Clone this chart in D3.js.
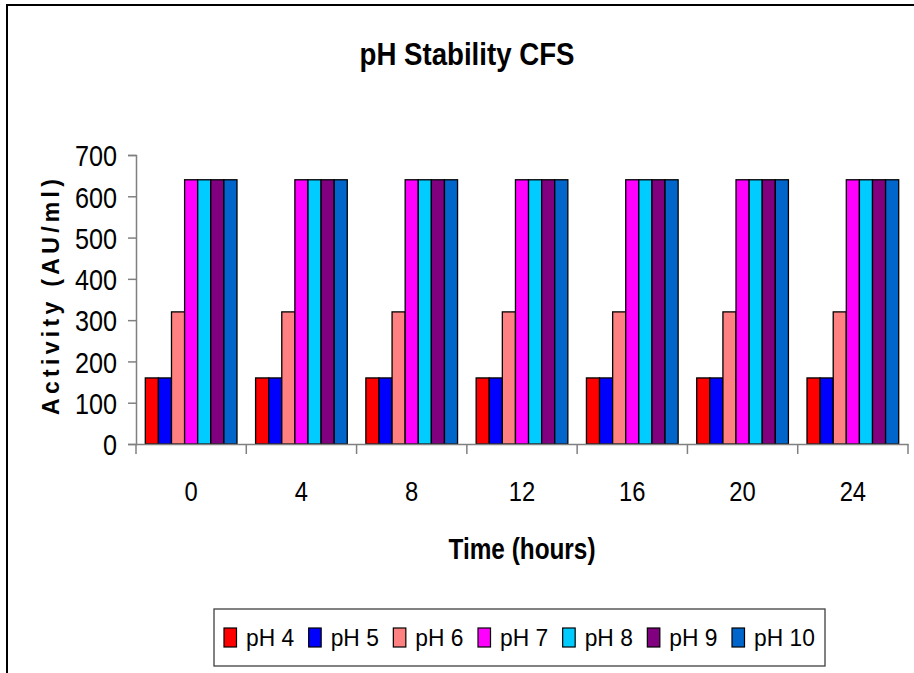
<!DOCTYPE html>
<html>
<head>
<meta charset="utf-8">
<script src="https://cdn.jsdelivr.net/npm/d3@7"></script>
<style>
  html, body { margin: 0; padding: 0; background: #fff; }
  svg { display: block; }
  text { font-family: "Liberation Sans", Arial, sans-serif; fill: #000; }
</style>
</head>
<body>
<svg id="chart" width="914" height="673"></svg>
<script>
const categories = ["0", "4", "8", "12", "16", "20", "24"];
const seriesNames = ["pH 4", "pH 5", "pH 6", "pH 7", "pH 8", "pH 9", "pH 10"];
const pH4  = [160, 160, 160, 160, 160, 160, 160];
const pH5  = [160, 160, 160, 160, 160, 160, 160];
const pH6  = [320, 320, 320, 320, 320, 320, 320];
const pH7  = [640, 640, 640, 640, 640, 640, 640];
const pH8  = [640, 640, 640, 640, 640, 640, 640];
const pH9  = [640, 640, 640, 640, 640, 640, 640];
const pH10 = [640, 640, 640, 640, 640, 640, 640];
const yTicks = [0, 100, 200, 300, 400, 500, 600, 700];
const colors = ["#FF0000", "#0000FF", "#FF8080", "#FF00FF", "#00CCFF", "#800080", "#0066CC"];
const titleText = "pH Stability CFS";
const xTitle = "Time (hours)";
const yTitle = "Activity (AU/ml)";

const seriesValues = [pH4, pH5, pH6, pH7, pH8, pH9, pH10];

// emulate a narrow face by compressing glyphs horizontally
function narrow(sel, factor) {
  sel.each(function () {
    const w = this.getComputedTextLength();
    d3.select(this).attr("textLength", w * factor).attr("lengthAdjust", "spacingAndGlyphs");
  });
}

const svg = d3.select("#chart");

// outer frame
svg.append("path")
  .attr("d", "M7,673 L7,5 L914,5")
  .attr("fill", "none").attr("stroke", "#000").attr("stroke-width", 2);

const plot = { left: 136, right: 908, top: 155, bottom: 444 };

const x0 = d3.scaleBand().domain(categories).range([plot.left, plot.right]).padding(0);
const gapFrac = 9.3 / x0.bandwidth();
const x1 = d3.scaleBand().domain(seriesNames)
  .range([x0.bandwidth() * gapFrac, x0.bandwidth() * (1 - gapFrac)]).padding(0);
const y = d3.scaleLinear().domain([0, 700]).range([plot.bottom, plot.top]);

// bars
const groups = svg.append("g").selectAll("g")
  .data(categories)
  .join("g")
  .attr("transform", d => `translate(${x0(d)},0)`);

groups.selectAll("rect")
  .data((c, ci) => seriesNames.map((s, si) => ({ s, si, v: seriesValues[si][ci] })))
  .join("rect")
  .attr("x", d => x1(d.s))
  .attr("y", d => y(d.v))
  .attr("width", x1.bandwidth())
  .attr("height", d => y(0) - y(d.v))
  .attr("fill", d => colors[d.si])
  .attr("stroke", "#000")
  .attr("stroke-width", 1.3);

// y axis
const yAxis = svg.append("g")
  .attr("transform", `translate(${plot.left},0)`)
  .call(d3.axisLeft(y).tickValues(yTicks).tickSize(8).tickPadding(11).tickFormat(d3.format("d")));
yAxis.select(".domain").attr("stroke", "#808080").attr("stroke-width", 1.5);
yAxis.selectAll(".tick line").attr("stroke", "#808080").attr("stroke-width", 1.5);
yAxis.selectAll(".tick text").attr("font-size", 30).attr("fill", "#000")
  .attr("dy", "0.36em")
  .style("font-family", '"Liberation Sans", Arial, sans-serif')
  .call(narrow, 0.84);

// x axis
const xAxis = svg.append("g")
  .attr("transform", `translate(0,${plot.bottom})`)
  .call(d3.axisBottom(x0).tickSize(0).tickPadding(0));
xAxis.select(".domain").attr("stroke", "#808080").attr("stroke-width", 1.5);
xAxis.selectAll(".tick text").attr("font-size", 27).attr("fill", "#000")
  .attr("y", 57).attr("dy", null)
  .style("font-family", '"Liberation Sans", Arial, sans-serif')
  .call(narrow, 0.88);
// category boundary ticks
const boundaries = categories.map(c => x0(c)).concat([x0.range()[1]]);
svg.append("g").selectAll("line").data(boundaries).join("line")
  .attr("x1", d => d).attr("x2", d => d)
  .attr("y1", plot.bottom).attr("y2", plot.bottom + 10)
  .attr("stroke", "#808080").attr("stroke-width", 1.5);

// title
svg.append("text")
  .attr("x", 467).attr("y", 65)
  .attr("text-anchor", "middle")
  .attr("font-size", 31).attr("font-weight", "bold")
  .text(titleText)
  .attr("textLength", 215).attr("lengthAdjust", "spacingAndGlyphs");

// x title
svg.append("text")
  .attr("x", 522).attr("y", 559)
  .attr("text-anchor", "middle")
  .attr("font-size", 30).attr("font-weight", "bold")
  .text(xTitle)
  .attr("textLength", 147).attr("lengthAdjust", "spacingAndGlyphs");

// y title
svg.append("text")
  .attr("transform", "translate(59,297) rotate(-90)")
  .attr("text-anchor", "middle")
  .attr("font-size", 23).attr("font-weight", "bold")
  .text(yTitle)
  .attr("textLength", 236).attr("lengthAdjust", "spacing");

// legend
const legend = svg.append("g");
legend.append("rect")
  .attr("x", 214).attr("y", 609).attr("width", 611).attr("height", 57)
  .attr("fill", "#fff").attr("stroke", "#404040").attr("stroke-width", 1.3);
let lx = 224;
seriesNames.forEach((name, i) => {
  const g = legend.append("g");
  g.append("rect").attr("x", lx).attr("y", 628).attr("width", 12.5).attr("height", 19)
    .attr("fill", colors[i]).attr("stroke", "#000").attr("stroke-width", 1.2);
  const t = g.append("text").attr("x", lx + 22).attr("y", 646)
    .attr("font-size", 24).text(name);
  t.call(narrow, 0.95);
  const w = +t.attr("textLength");
  lx = lx + 22 + w + 14.5;
});
</script>
</body>
</html>
